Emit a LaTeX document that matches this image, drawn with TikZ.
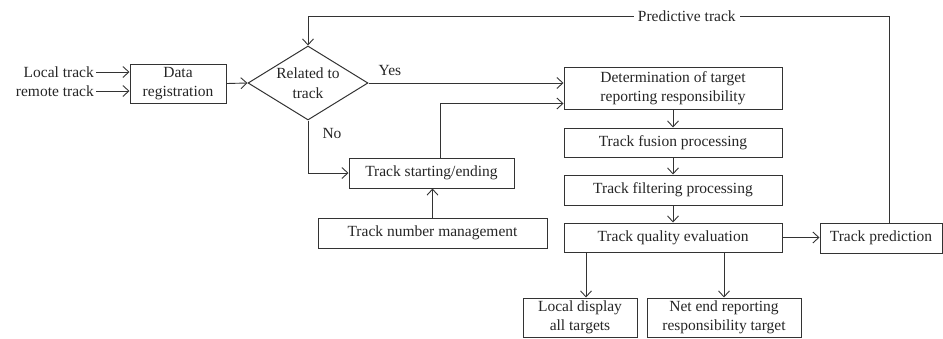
\documentclass[tikz,border=0pt]{standalone}
\usepackage{fontspec}
\setmainfont{Liberation Serif}
\usetikzlibrary{arrows.meta,shapes.geometric}
\newcommand\figfont{\fontsize{15.5}{19.5}\selectfont}
\begin{document}
\begin{tikzpicture}[x=1pt,y=-1pt,
  every node/.style={font=\figfont,text=black!85},
  box/.style={draw=black!80,line width=1pt,inner sep=0pt,align=center},
  dia/.style={draw=black!80,line width=1pt,shape=diamond,inner sep=0pt,aspect=1.62,
              minimum width=120pt,minimum height=74pt,align=center},
  lbl/.style={inner sep=2pt},
  arr/.style={draw=black!80,-{Straight Barb[length=6pt,width=11pt]},line width=0.9pt}]
\useasboundingbox (0,0) rectangle (943,338);

% inputs
\node[lbl,anchor=east] (lt) at (96,72) {Local track};
\node[lbl,anchor=east] (rt) at (96,91) {remote track};

% boxes
\node[box,minimum width=96pt,minimum height=39pt] (reg) at (178,83.5) {Data\\registration};
\node[dia] (dec) at (308,83) {Related to\\track};
\node[box,minimum width=218pt,minimum height=42pt] (det) at (673,88) {Determination of target\\reporting responsibility};
\node[box,minimum width=218pt,minimum height=29pt] (fus) at (673,142.5) {Track fusion processing};
\node[box,minimum width=218pt,minimum height=30pt] (fil) at (673,190) {Track filtering processing};
\node[box,minimum width=218pt,minimum height=29pt] (qual) at (673,237.5) {Track quality evaluation};
\node[box,minimum width=165pt,minimum height=30pt] (start) at (431.5,173) {Track starting/ending};
\node[box,minimum width=229pt,minimum height=30pt] (num) at (432.5,233) {Track number management};
\node[box,minimum width=122pt,minimum height=30pt] (pred) at (881,238) {Track prediction};
\node[box,minimum width=114pt,minimum height=39pt] (loc) at (580,317.5) {Local display\\all targets};
\node[box,minimum width=154pt,minimum height=39pt] (net) at (724,317.5) {Net end reporting\\responsibility target};

% branch labels
\node[lbl] (yes) at (390,70) {Yes};
\node[lbl] (no) at (332,133) {No};

% connectors
\draw[arr] (lt.east) -- (lt.east -| reg.west);
\draw[arr] (rt.east) -- (rt.east -| reg.west);
\draw[arr] (reg.east) -- (dec.west);
\draw[arr] (dec.east) -- (dec.east -| det.west);
\draw[arr] (dec.south) |- (start.west);
\draw[arr] ([xshift=8.5pt]start.north) |- ([yshift=6pt]det.south west);
\draw[arr] (num.north) -- (num.north |- start.south);
\draw[arr] (det) -- (fus);
\draw[arr] (fus) -- (fil);
\draw[arr] (fil) -- (qual);
\draw[arr] (qual.east) -- (qual.east -| pred.west);
\draw[arr] ([xshift=-87pt]qual.south) -- ([xshift=6pt]loc.north);
\draw[arr] ([xshift=51pt]qual.south) -- (net.north);

% feedback loop
\coordinate (tr) at (889,16);
\draw[arr] ([xshift=8pt]pred.north) -- (tr)
  -- node[pos=0.348,fill=white,inner sep=4pt] (ptk) {Predictive track} (tr -| dec)
  -- (dec.north);
\end{tikzpicture}
\end{document}
